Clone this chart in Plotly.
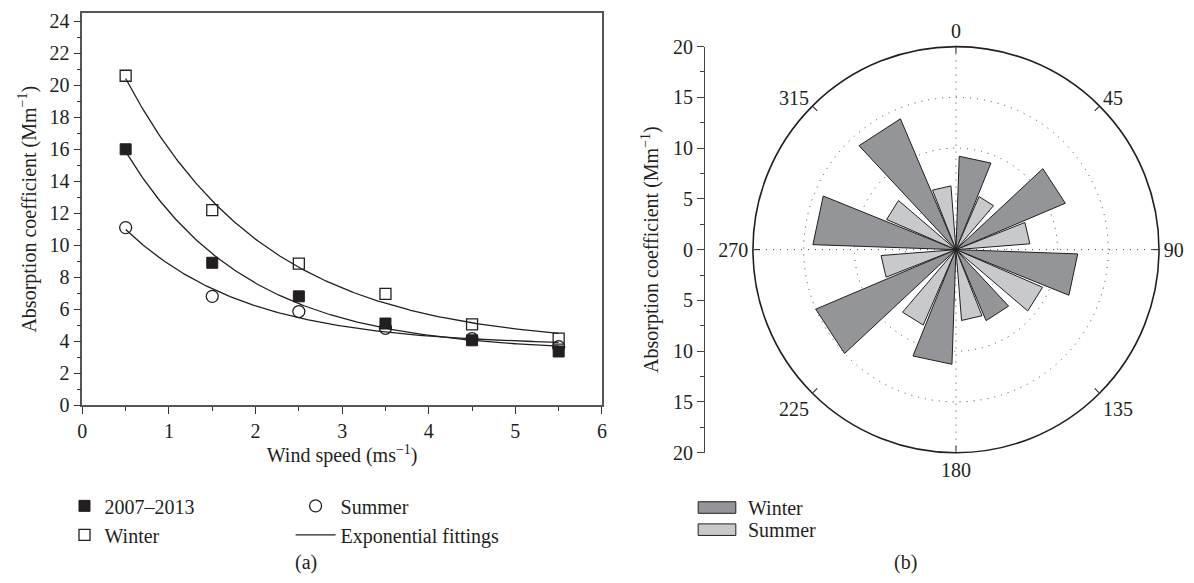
import numpy as np
import plotly.graph_objects as go

# ---------------- data: panel (a) ----------------
wind_speed = [0.5, 1.5, 2.5, 3.5, 4.5, 5.5]
abs_all = [16.0, 8.9, 6.8, 5.1, 4.05, 3.35]      # 2007-2013
abs_winter = [20.6, 12.2, 8.85, 6.95, 5.05, 4.15]
abs_summer = [11.1, 6.8, 5.85, 4.8, 4.15, 3.65]

# ---------------- data: panel (b) ----------------
wind_dir = [0, 45, 90, 135, 180, 225, 270, 315]
rose_winter = [9.2, 11.7, 12.0, 7.6, 11.3, 15.0, 14.1, 14.0]
rose_summer = [5.7, 7.3, 9.3, 7.0, 8.1, 7.4, 7.45, 6.3]
angle_labels = ["0", "45", "90", "135", "180", "225", "270", "315"]
rose_names = ["Winter", "Summer"]
rose_colors = ["#939598", "#c8c9cb"]

W, H = 1194, 583
FONT = "Liberation Serif"
TXT = "#231f20"
FS = 20


def px(x):
    return x / W


def py(y):
    return 1 - y / H


def expfit(x, y):
    x = np.asarray(x, float)
    y = np.asarray(y, float)
    best = None
    for t in np.linspace(0.2, 10, 3000):
        M = np.column_stack([np.ones_like(x), np.exp(-x / t)])
        coef, *_ = np.linalg.lstsq(M, y, rcond=None)
        sse = float(((M @ coef - y) ** 2).sum())
        if best is None or sse < best[0]:
            best = (sse, coef, t)
    _, (y0, a), t = best
    xs = np.linspace(x.min(), x.max(), 200)
    return xs, y0 + a * np.exp(-xs / t)


fig = go.Figure()

# ---- panel (a) markers ----
fig.add_trace(go.Scatter(x=wind_speed, y=abs_all, mode="markers", name="2007–2013",
                         marker=dict(symbol="square", size=11, color="#231f20",
                                     line=dict(color="#231f20", width=1)),
                         legend="legend", xaxis="x", yaxis="y"))
fig.add_trace(go.Scatter(x=wind_speed, y=abs_winter, mode="markers", name="Winter",
                         marker=dict(symbol="square-open", size=11, color="#231f20",
                                     line=dict(width=1.3)),
                         legend="legend", xaxis="x", yaxis="y"))
fig.add_trace(go.Scatter(x=wind_speed, y=abs_summer, mode="markers", name="Summer",
                         marker=dict(symbol="circle-open", size=12, color="#231f20",
                                     line=dict(width=1.3)),
                         legend="legend2", xaxis="x", yaxis="y"))
for i, series in enumerate([abs_winter, abs_all, abs_summer]):
    xs, ys = expfit(wind_speed, series)
    fig.add_trace(go.Scatter(x=xs, y=ys, mode="lines", name="Exponential fittings",
                             line=dict(color="#231f20", width=1.3),
                             showlegend=(i == 0), legend="legend2",
                             xaxis="x", yaxis="y", hoverinfo="skip"))

# ---- panel (b): dotted cross lines ----
for th in ([0, 180], [90, 270]):
    fig.add_trace(go.Scatterpolar(r=[20, 20], theta=th, mode="lines",
                                  line=dict(color="#444", width=1, dash="1px,6px"),
                                  showlegend=False, hoverinfo="skip", subplot="polar"))


def wedges(values, a0, a1):
    r, t = [], []
    for d, v in zip(wind_dir, values):
        r += [0, v, v, 0, None]
        t += [d + a0, d + a0, d + a1, d + a1, None]
    return r, t


rw, tw = wedges(rose_winter, 2.0, 22.0)
rs, ts = wedges(rose_summer, 23.5, 40.5)
fig.add_trace(go.Scatterpolar(r=rw, theta=tw, mode="lines", fill="toself", name="Winter",
                              fillcolor=rose_colors[0], line=dict(color="#231f20", width=1),
                              showlegend=False, subplot="polar"))
fig.add_trace(go.Scatterpolar(r=rs, theta=ts, mode="lines", fill="toself", name="Summer",
                              fillcolor=rose_colors[1], line=dict(color="#231f20", width=1),
                              showlegend=False, subplot="polar"))

# invisible trace for the separate radial scale axis
fig.add_trace(go.Scatter(x=[0], y=[0], mode="markers", marker=dict(opacity=0),
                         showlegend=False, hoverinfo="skip", xaxis="x2", yaxis="y2"))

axis_font = dict(family=FONT, size=FS, color=TXT)
scale_vals = list(range(-20, 21, 5))

# polar geometry (pixels)
CX, CY, R = 959, 248, 211

# legend keys for panel (b)
shapes = []
annotations = []
for k, (nm, col) in enumerate(zip(rose_names, rose_colors)):
    yc = 516 + 23 * k
    shapes.append(dict(type="rect", xref="paper", yref="paper",
                       x0=px(699), x1=px(737), y0=py(yc - 6), y1=py(yc + 6),
                       fillcolor=col, line=dict(color="#231f20", width=1)))
    annotations.append(dict(text=nm, x=px(747), y=py(yc), xref="paper", yref="paper",
                            xanchor="left", yanchor="middle", showarrow=False,
                            font=dict(family=FONT, size=FS, color=TXT)))
annotations += [
    dict(text="(a)", x=px(304), y=py(573), xref="paper", yref="paper",
         xanchor="center", yanchor="middle", showarrow=False,
         font=dict(family=FONT, size=FS, color=TXT)),
    dict(text="(b)", x=px(908), y=py(573), xref="paper", yref="paper",
         xanchor="center", yanchor="middle", showarrow=False,
         font=dict(family=FONT, size=FS, color=TXT)),
]

fig.update_layout(
    width=W, height=H,
    margin=dict(l=0, r=0, t=0, b=0),
    paper_bgcolor="white", plot_bgcolor="white",
    font=dict(family=FONT, size=FS, color=TXT),
    xaxis=dict(domain=[px(78), px(602)], range=[0, 6], dtick=1, tick0=0,
               showgrid=False, zeroline=False, showline=True, linecolor="#555",
               linewidth=1.5, mirror=True, ticks="outside", ticklen=7, tickcolor="#333",
               minor=dict(dtick=0.5, ticks="outside", ticklen=4, tickcolor="#333"),
               tickfont=axis_font, anchor="y",
               title=dict(text="Wind speed (ms<sup>−1</sup>)", font=axis_font, standoff=6)),
    yaxis=dict(domain=[py(409.5), py(2.5)], range=[0, 24.5], tickvals=list(range(0, 25, 2)),
               showgrid=False, zeroline=False, showline=True, linecolor="#555",
               linewidth=1.5, mirror=True, ticks="outside", ticklen=7, tickcolor="#333",
               minor=dict(dtick=1, tick0=0, ticks="outside", ticklen=4, tickcolor="#333"),
               tickfont=axis_font, anchor="x",
               title=dict(text="Absorption coefficient (Mm<sup>−1</sup>)", font=axis_font,
                          standoff=8)),
    xaxis2=dict(domain=[px(706), px(707)], range=[0, 1], visible=False, anchor="y2"),
    yaxis2=dict(domain=[py(CY + R), py(CY - R)], range=[-20, 20], anchor="x2", side="left",
                tickmode="array", tickvals=scale_vals,
                ticktext=[str(abs(v)) for v in scale_vals],
                showgrid=False, zeroline=False, showline=True, linecolor="#444",
                linewidth=1.3, ticks="outside", ticklen=7, tickcolor="#444",
                minor=dict(tickvals=[v + 2.5 for v in scale_vals[:-1]], ticks="outside",
                           ticklen=4, tickcolor="#444"),
                tickfont=axis_font,
                title=dict(text="Absorption coefficient (Mm<sup>−1</sup>)", font=axis_font,
                           standoff=8)),
    polar=dict(
        domain=dict(x=[px(CX - R), px(CX + R)], y=[py(CY + R), py(CY - R)]),
        bgcolor="white",
        angularaxis=dict(rotation=90, direction="clockwise", tickmode="array",
                         tickvals=wind_dir, ticktext=angle_labels, showgrid=False,
                         ticks="inside", ticklen=6, tickcolor="#231f20",
                         showline=True, linecolor="#231f20", linewidth=1.6,
                         tickfont=axis_font),
        radialaxis=dict(range=[0, 20], tickvals=[5, 10, 15], showticklabels=False,
                        ticks="", showline=False, gridcolor="#444", gridwidth=1,
                        griddash="1px,6px"),
    ),
    legend=dict(x=px(60), y=py(494), xanchor="left", yanchor="top",
                font=dict(family=FONT, size=FS, color=TXT), bgcolor="rgba(0,0,0,0)",
                tracegroupgap=0, itemwidth=30),
    legend2=dict(x=px(288), y=py(494), xanchor="left", yanchor="top",
                 font=dict(family=FONT, size=FS, color=TXT), bgcolor="rgba(0,0,0,0)",
                 tracegroupgap=0, itemwidth=40),
    shapes=shapes,
    annotations=annotations,
)

fig.write_html("out.html", config={"displayModeBar": False},
               post_script="document.body.style.margin='0';document.body.style.overflow='hidden';")
